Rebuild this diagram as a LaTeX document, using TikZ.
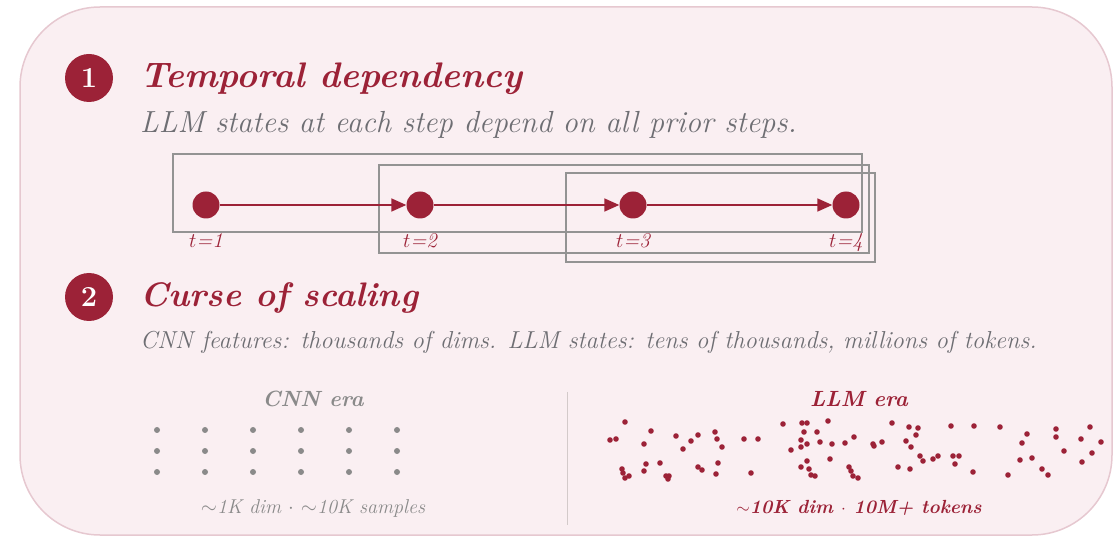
\documentclass[tikz,border=0pt]{standalone}
\usepackage{tikz}
\usetikzlibrary{arrows.meta,positioning}
\definecolor{crimson}{HTML}{9C2237}
\definecolor{panelfill}{HTML}{FAEFF2}
\definecolor{panelline}{HTML}{E6C8D0}
\definecolor{inkgray}{HTML}{6E6E73}
\definecolor{boxgray}{HTML}{939393}
\definecolor{dotgray}{HTML}{8A8A8A}
\definecolor{divider}{HTML}{D3CACA}
\tikzset{
  badge/.style={circle,fill=crimson,minimum size=48pt,inner sep=0pt,
    text=white,font=\fontsize{29}{29}\selectfont\bfseries},
  headline/.style={anchor=base west,inner sep=0pt,text=crimson,
    font=\fontsize{35.5}{40}\selectfont\bfseries\itshape},
  subline/.style={anchor=base west,inner sep=0pt,text=inkgray,
    font=\fontsize{30.5}{34}\selectfont\itshape},
  state/.style={circle,fill=crimson,minimum size=27pt,inner sep=0pt},
  steplabel/.style={anchor=base,inner sep=0pt,text=crimson,
    font=\fontsize{21}{22}\selectfont\itshape},
  window/.style={draw=boxgray,line width=1.1pt},
  flow/.style={draw=crimson,line width=1.6pt,-{Triangle[length=15pt,width=13pt]}},
  eralabel/.style={anchor=base,inner sep=0pt,font=\fontsize{22}{26}\selectfont\bfseries\itshape},
  eranote/.style={anchor=base,inner sep=0pt,font=\fontsize{20}{24}\selectfont\itshape},
}
\begin{document}
\begin{tikzpicture}[x=1pt,y=-1pt]
  \useasboundingbox (0,0) rectangle (1120,537);
  \draw[panelline,fill=panelfill,line width=1.5pt,rounded corners=80pt] (20,7) rectangle (1112,535);

  % 1 -- temporal dependency
  \node[badge] (b1) at (89,78) {1};
  \node[headline] (h1) at (140,88) {Temporal dependency};
  \node[subline] (d1) at (140,133) {LLM states at each step depend on all prior steps.};

  \draw[window] (173,154) rectangle (862,232);
  \draw[window] (379,165) rectangle (869,253);
  \draw[window] (566,173) rectangle (875,262);

  \foreach \i/\x in {1/206,2/420,3/633,4/846}{
    \node[state] (s\i) at (\x,205) {};
    \node[steplabel] (t\i) at (\x,248) {$t$=\i};
  }
  \foreach \a/\b in {1/2,2/3,3/4}
    \draw[flow] (s\a) -- (s\b);

  % 2 -- curse of scaling
  \node[badge] (b2) at (89,297) {2};
  \node[headline,font=\fontsize{34}{40}\selectfont\bfseries\itshape] (h2) at (140,307) {Curse of scaling};
  \node[subline,font=\fontsize{24.5}{28}\selectfont\itshape] (d2) at (140,349)
    {CNN features: thousands of dims. LLM states: tens of thousands, millions of tokens.};

  \draw[divider,line width=1pt] (567,392) -- (567,525);

  \node[eralabel,text=dotgray] (cnn) at (313,407) {CNN era};
  \foreach \x in {157,205,253,301,349,397}
    \foreach \y in {430,451,472}
      \fill[dotgray] (\x,\y) circle[radius=3pt];
  \node[eranote,text=dotgray] (cnnnote) at (313,513) {$\sim$1K dim $\cdot$ $\sim$10K samples};

  \node[eralabel,text=crimson] (llm) at (859,407) {LLM era};
  \foreach \x/\y in {625/422,610/440,616/439,651/431,644/444,676/436,698/435,691/441,683/449,
      715/432,717/439,722/447,744/439,758/439,783/424,802/423,807/423,804/432,817/432,828/421,
      801/440,807/444,801/447,791/450,820/442,832/444,845/443,854/437,830/459,807/461,801/467,
      809/469,811/475,815/476,849/467,851/471,853/476,858/478,622/469,623/473,625/478,629/476,
      646/464,644/471,660/463,666/476,668/479,669/476,698/467,702/470,718/463,716/474,751/473,
      892/423,873/444,874/446,882/442,909/427,918/428,916/435,906/441,911/447,920/456,923/461,
      933/459,938/456,953/456,959/456,955/464,951/426,974/426,1000/427,898/467,910/469,973/472,
      1008/475,1027/434,1022/443,1020/460,1032/458,1042/469,1048/475,1056/429,1056/437,1064/451,
      1090/427,1081/439,1101/442,1092/453,1082/462}
    \fill[crimson] (\x,\y) circle[radius=2.8pt];
  \node[eranote,text=crimson,font=\fontsize{19}{22}\selectfont\bfseries\itshape] (llmnote) at (859,513)
    {$\mathbf{\sim}$10K dim $\mathbf{\cdot}$ 10M+ tokens};
\end{tikzpicture}
\end{document}
